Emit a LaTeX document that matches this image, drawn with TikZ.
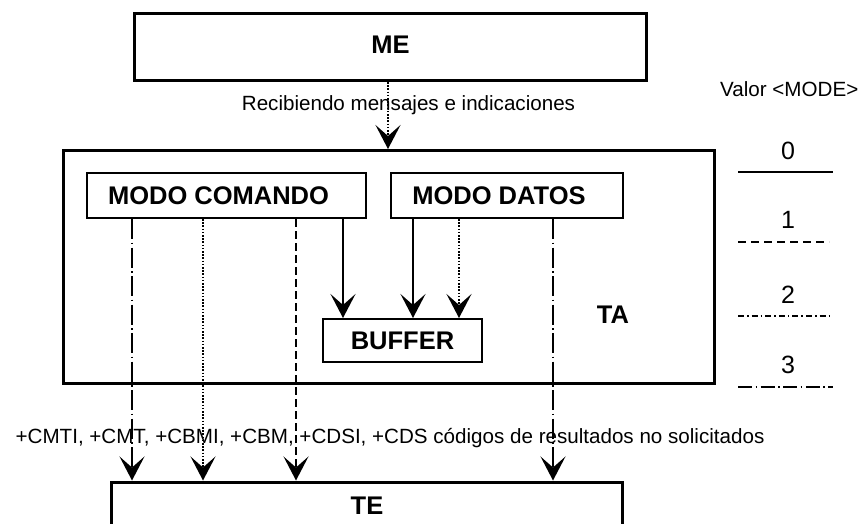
\documentclass[tikz,border=0pt]{standalone}
\usepackage{fontspec}
\setmainfont{Liberation Sans}
\usetikzlibrary{arrows.meta}
\tikzset{
  big/.style={draw, line width=3pt, rectangle, inner sep=0pt, font=\fontsize{25.5}{28}\selectfont\bfseries},
  small/.style={draw, line width=2pt, rectangle, inner sep=0pt, font=\fontsize{25.5}{28}\selectfont\bfseries},
  txt/.style={inner sep=0pt, font=\fontsize{20.6}{24}\selectfont},
  dtxt/.style={inner sep=0pt, font=\fontsize{25}{28}\selectfont},
  btxt/.style={inner sep=0pt, font=\fontsize{25.5}{28}\selectfont\bfseries},
  arr/.style={-{Stealth[length=24pt,width=25pt,inset=11pt]}},
  solidc/.style={arr, line width=2pt},
  dotc/.style={arr, line width=1.6pt, dash pattern=on 1.6pt off 1.6pt},
  dashc/.style={arr, line width=1.6pt, dash pattern=on 8pt off 4pt},
  ddc/.style={arr, line width=1.6pt, dash pattern=on 20pt off 3.5pt on 1.5pt off 3.5pt},
}
\begin{document}
\begin{tikzpicture}[x=1pt,y=-1pt]
\clip (0,0) rectangle (860,524);
\useasboundingbox (0,0) rectangle (860,524);

% boxes
\node[big, minimum width=512pt, minimum height=67pt] (me) at (390.5,47) {\raisebox{4pt}{ME}};
\node[big, minimum width=651pt, minimum height=233pt] (ta) at (389,267) {};
\node[small, minimum width=279pt, minimum height=45pt] (mc) at (226.5,195.5) {MODO COMANDO\hspace*{16pt}};
\node[small, minimum width=232pt, minimum height=45pt] (md) at (507,195.5) {MODO DATOS\hspace*{16pt}};
\node[small, minimum width=159pt, minimum height=43pt] (buf) at (402.5,340.5) {BUFFER};
\node[big, minimum width=511pt, minimum height=80pt, anchor=north] (te) at (367,480.5) {};
\node[btxt] (telbl) at (367,506) {TE};
\node[btxt, anchor=base] (talbl) at (613,323) {TA};

% texts
\node[txt, anchor=base] (rec) at (408.5,111) {Recibiendo mensajes e indicaciones};
\node[txt, anchor=base] (cod) at (390,443) {+CMTI, +CMT, +CBMI, +CBM, +CDSI, +CDS códigos de resultados no solicitados};

% connectors
\draw[dotc] (388,0 |- me.south) -- (388,0 |- ta.north);
\draw[ddc]   (132,0 |- mc.south) -- (132,0 |- te.north);
\draw[dotc]  (203,0 |- mc.south) -- (203,0 |- te.north);
\draw[dashc] (296,0 |- mc.south) -- (296,0 |- te.north);
\draw[solidc] (343,0 |- mc.south) -- (343,0 |- buf.north);
\draw[solidc] (413,0 |- md.south) -- (413,0 |- buf.north);
\draw[dotc]  (459,0 |- md.south) -- (459,0 |- buf.north);
\draw[ddc]   (553,0 |- md.south) -- (553,0 |- te.north);

% legend
\node[txt, anchor=base west] (valor) at (720,97) {Valor <MODE>};
\node[dtxt, anchor=base] (l0) at (788,160) {0};
\node[dtxt, anchor=base] (l1) at (788,229) {1};
\node[dtxt, anchor=base] (l2) at (788,303) {2};
\node[dtxt, anchor=base] (l3) at (788,373) {3};
\draw[line width=2pt] (738,172) -- (833,172);
\draw[line width=2pt, dash pattern=on 8pt off 5pt] (738,242) -- (829,242);
\draw[line width=2pt, dash pattern=on 6pt off 3pt on 1.6pt off 3pt] (738,316) -- (831,316);
\draw[line width=2pt, dash pattern=on 14pt off 3.5pt on 1.6pt off 3.5pt] (738,387) -- (833,387);
\end{tikzpicture}
\end{document}
